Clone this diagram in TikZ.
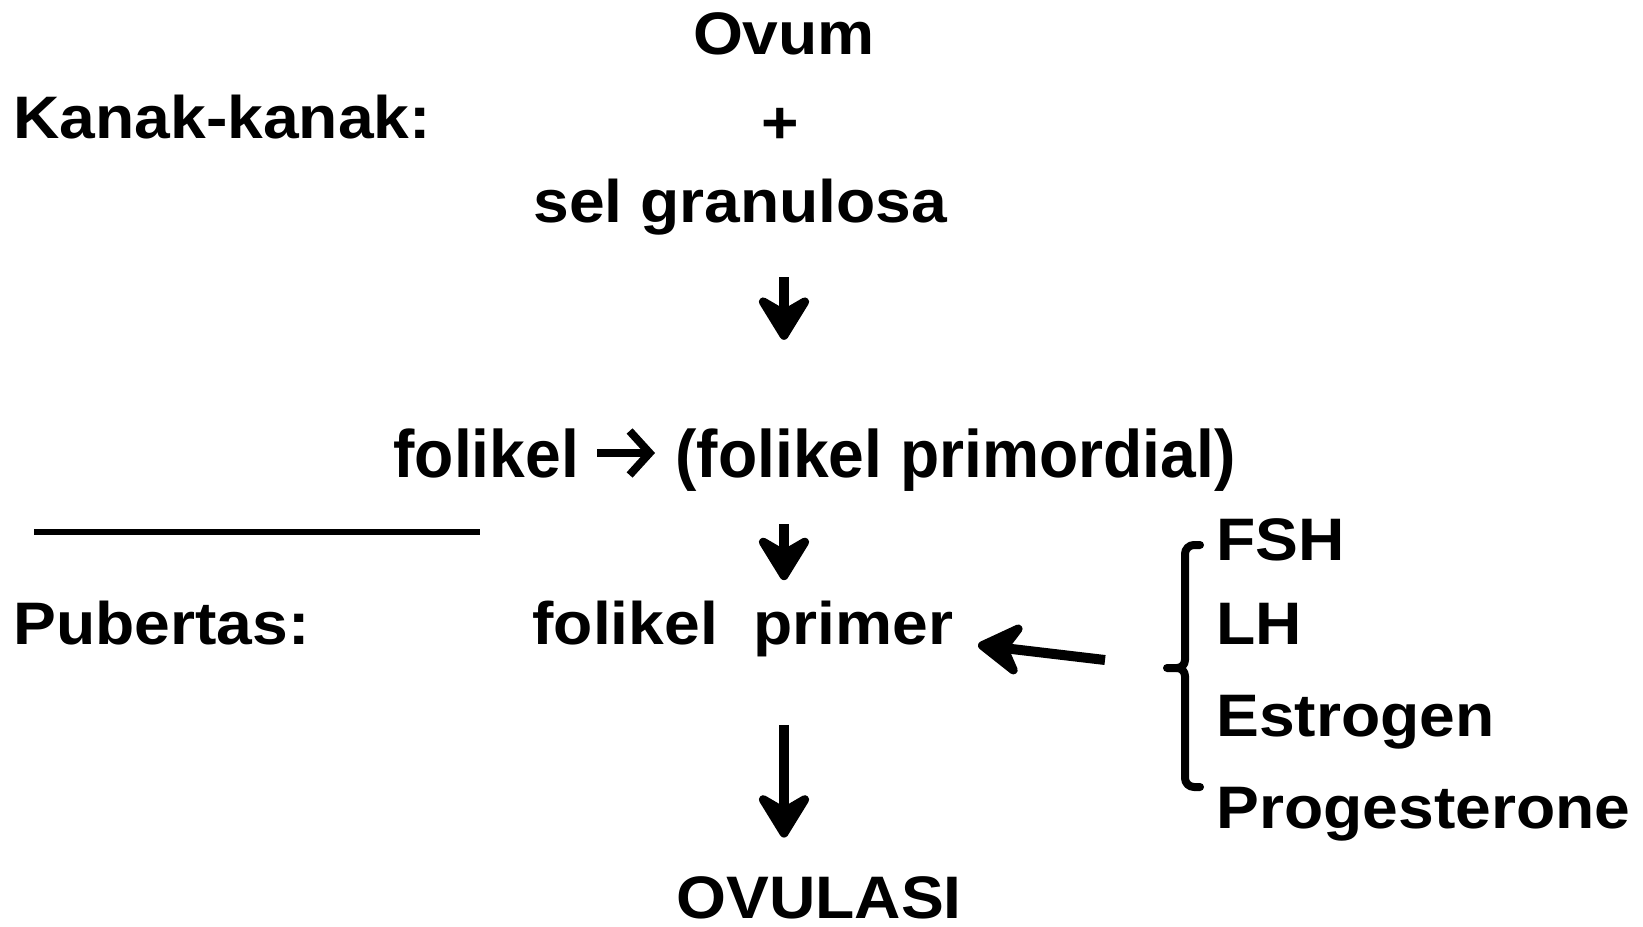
\documentclass[tikz,border=0pt]{standalone}
\usepackage{fontspec}
\setmainfont{Liberation Sans}
\usetikzlibrary{arrows.meta}
\begin{document}
\begin{tikzpicture}[x=0.5pt,y=-0.5pt,
  lbl/.style={inner sep=0pt, anchor=base west,
    font=\fontsize{30}{36}\selectfont\bfseries, xscale=1.07, transform shape},
  tall/.style={yscale=1.12},
  flow/.style={line width=5pt,
    -{Stealth[round, length=27pt, width=33pt, inset=9.5pt]}},
  chev/.style={line width=4pt, -{Straight Barb[length=10pt, width=22pt]}},
  brace/.style={line width=4pt, line cap=round, line join=round},
  rule/.style={line width=2.75pt}]
\useasboundingbox (0,0) rectangle (1643,926);

% labels
\node[lbl, anchor=base] (ovum) at (784,54.5) {Ovum};
\node[lbl] (kanak) at (13,138) {Kanak-kanak:};
\node[lbl, anchor=center] (plus) at (780,126) {+};
\node[lbl] (gran) at (533,222) {sel granulosa};
\node[lbl, tall] (folw) at (393,477) {folikel};
\node[lbl, tall] (folp) at (675,477) {(folikel primordial)};
\node[lbl] (pub) at (13,644) {Pubertas:};
\node[lbl] (primer) at (532,644) {folikel\ \ primer};
\node[lbl] (fsh) at (1216,560.6) {FSH};
\node[lbl] (lh) at (1216,644) {LH};
\node[lbl] (estr) at (1216,736.6) {Estrogen};
\node[lbl] (prog) at (1216,828) {Progesterone};
\node[lbl] (ovul) at (676,918.5) {OVULASI};

% divider between the two stages
\draw[rule] (34,532) -- (480,532);

% main flow
\draw[flow, shorten <=21pt, shorten >=44pt] (ovum |- gran.south) -- (ovum |- folp.north);
\draw[chev, shorten <=9pt, shorten >=10pt] (folw.east) -- (folw.east -| folp.west);
\draw[flow, shorten <=16.5pt, shorten >=10pt] (ovum |- folp.south) -- (ovum |- primer.north);
\draw[flow, shorten <=34pt, shorten >=19.3pt] (ovum |- primer.south) -- (ovum |- ovul.north);

% hormone group
\coordinate (notch) at (1167,668);
\draw[brace] (1200,545) -- (1194,545) to[out=180,in=90] (1185,554)
  -- (1185,660) to[out=-90,in=0] (1177,668) -- (notch);
\draw[brace] (1177,668) to[out=0,in=90] (1185,676) -- (1185,778)
  to[out=-90,in=180] (1194,787) -- (1200,787);

\coordinate (hin) at (1105,660);
\coordinate (hout) at (978,645);
\draw[flow] (hin) -- (hout);
\end{tikzpicture}
\end{document}
